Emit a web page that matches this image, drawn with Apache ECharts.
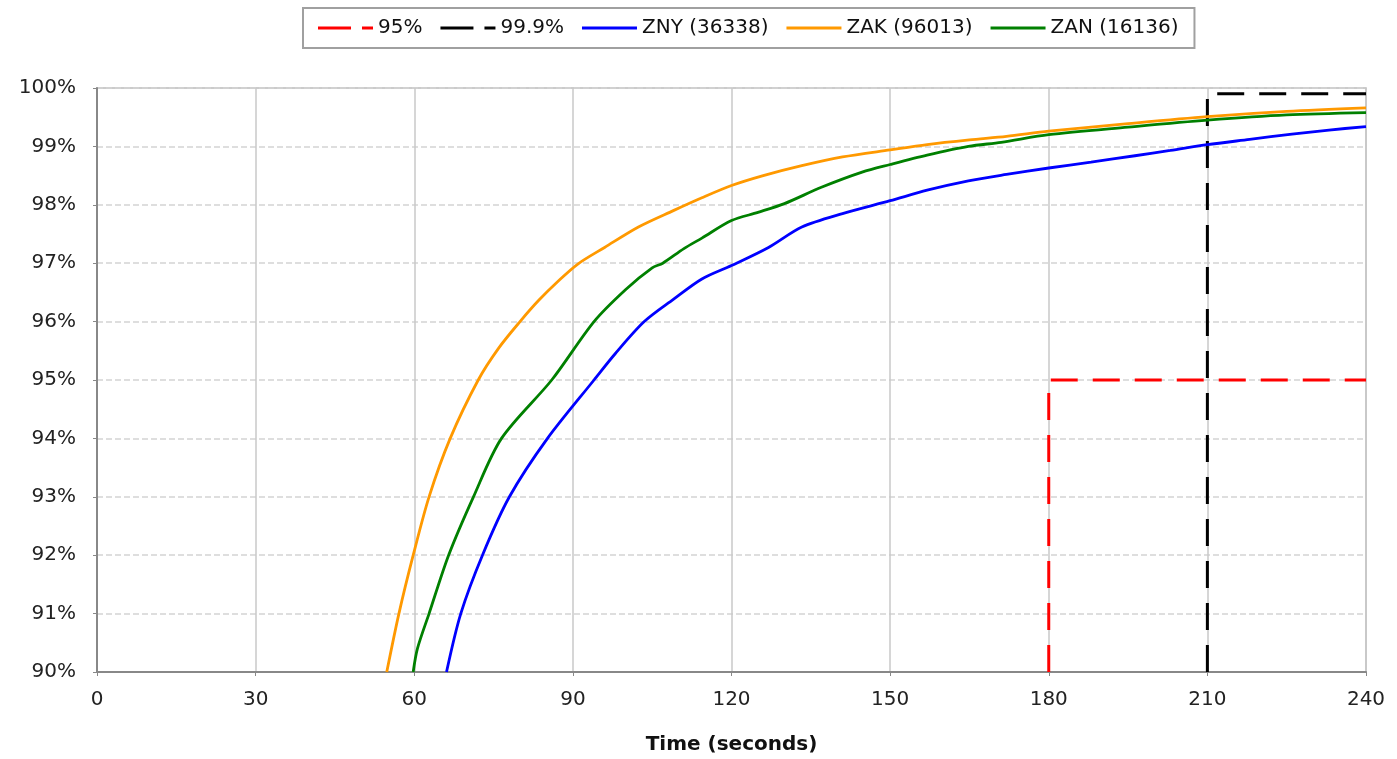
<!DOCTYPE html>
<html lang="en">
<head>
    <meta charset="UTF-8">
    <title>Time (seconds)</title>
    <style>
        html, body { margin: 0; padding: 0; background: #fff; }
        #main { width: 1397px; height: 759px; }
    </style>
</head>
<body>
    <div id="main"></div>
<script src="https://cdn.jsdelivr.net/npm/echarts@6/dist/echarts.min.js"></script>
<script>
    // [seconds, percent]
    var zny = [[66.1, 90], [68.8, 91], [72.9, 92], [78, 93], [85.2, 94], [94, 95], [98, 95.45], [103.5, 96],
        [109, 96.38], [114.4, 96.73], [120, 96.96], [127, 97.27], [133.3, 97.62], [141, 97.85], [150, 98.07],
        [157, 98.25], [164.8, 98.41], [172, 98.52], [180, 98.63], [188, 98.73], [196.3, 98.84], [203, 98.93],
        [210, 99.03], [218, 99.12], [226, 99.21], [233, 99.28], [240, 99.34]];
    var zak = [[54.8, 90], [57.1, 91], [59.8, 92], [62.8, 93], [66.8, 94], [72.1, 95], [76, 95.55], [80, 96],
        [83.5, 96.36], [87.3, 96.7], [91, 96.99], [96, 97.27], [102.4, 97.62], [109, 97.9], [114.4, 98.12],
        [120, 98.33], [126, 98.5], [133.3, 98.67], [141, 98.82], [150, 98.94], [157, 99.03], [165, 99.11],
        [172, 99.17], [180, 99.26], [195, 99.39], [210, 99.51], [225, 99.6], [240, 99.66]];
    var zan = [[59.8, 90], [60.6, 90.4], [62.8, 91], [66.5, 92], [71.2, 93], [76.5, 94], [86, 95], [94, 96],
        [100, 96.55], [105, 96.92], [107, 97.0], [111, 97.25], [114.4, 97.43], [120, 97.73],
        [125, 97.87], [130, 98.02], [137, 98.3], [144.7, 98.56], [150, 98.69], [157, 98.85], [164.8, 99.0],
        [171, 99.07], [180, 99.2], [195, 99.33], [210, 99.45], [225, 99.54], [240, 99.58]];
    // target lines
    var target95 = [[180, 90], [180, 95], [240, 95]];
    var target999 = [[210, 90], [210, 99.9], [240, 99.9]];

    var names = ['95%', '99.9%', 'ZNY (36338)', 'ZAK (96013)', 'ZAN (16136)'];
    var colors = ['#ff0000', '#000000', '#0000ff', '#ff9900', '#008000'];
    var font = 'DejaVu Sans, Arial, sans-serif';

    // legend icons: plain line, or long + short dash
    var solidIcon = 'path://M0,0H55V3H0Z';
    var dashIcon = 'path://M0,0H33V3H0Z M44,0H55V3H44Z';

    function curve(name, data, color) {
        return {
            name: name, type: 'line', data: data, symbol: 'none', smooth: 0.3,
            lineStyle: { color: color, width: 2.8 }, itemStyle: { color: color }, z: 3
        };
    }
    function target(name, data, color) {
        return {
            name: name, type: 'line', data: data, symbol: 'none',
            lineStyle: { color: color, width: 3, type: [27, 15] }, itemStyle: { color: color }, z: 2
        };
    }

    var myChart = echarts.init(document.getElementById('main'));
    var option = {
        animation: false,
        textStyle: { fontFamily: font },
        legend: {
            data: names.map(function (n, i) {
                return { name: n, icon: i < 2 ? dashIcon : solidIcon };
            }),
            top: 8, left: 303,
            padding: [10, 16, 10, 15],
            itemGap: 18, itemWidth: 55, itemHeight: 3,
            borderColor: '#a0a0a0', borderWidth: 2,
            textStyle: { fontSize: 20, color: '#111', fontFamily: font }
        },
        grid: { left: 97, right: 31, top: 88, bottom: 87, show: true, borderColor: '#bbb', borderWidth: 1.5, outerBoundsMode: 'none' },
        xAxis: {
            type: 'value', min: 0, max: 240, interval: 30,
            name: 'Time (seconds)', nameLocation: 'middle', nameGap: 63,
            nameTextStyle: { fontSize: 20, fontWeight: 'bold', color: '#111', fontFamily: font },
            axisLine: { show: true, lineStyle: { color: '#888', width: 2 } },
            axisTick: { show: true, length: 4, lineStyle: { color: '#888' } },
            axisLabel: { fontSize: 20, color: '#222', margin: 18 },
            splitLine: { show: true, lineStyle: { color: '#c8c8c8', width: 1.5 } }
        },
        yAxis: {
            type: 'value', min: 90, max: 100, interval: 1,
            axisLine: { show: true, lineStyle: { color: '#888', width: 2 } },
            axisTick: { show: true, length: 4, lineStyle: { color: '#888' } },
            axisLabel: { fontSize: 20, color: '#222', margin: 21, formatter: '{value}%' },
            splitLine: { show: true, lineStyle: { color: '#d4d4d4', width: 1.5, type: [6, 3] } }
        },
        series: [
            target(names[0], target95, colors[0]),
            target(names[1], target999, colors[1]),
            curve(names[2], zny, colors[2]),
            curve(names[3], zak, colors[3]),
            curve(names[4], zan, colors[4])
        ]
    };
    myChart.setOption(option);
</script>
</body>
</html>
